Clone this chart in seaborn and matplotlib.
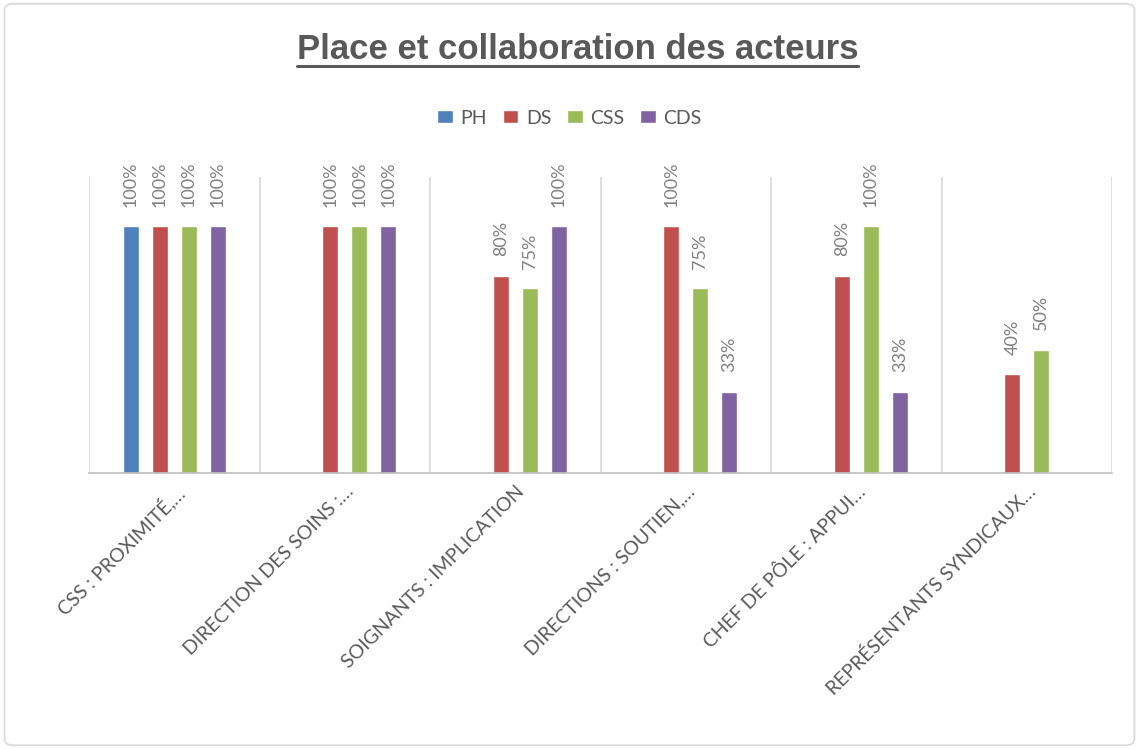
import matplotlib
matplotlib.use("Agg")
import matplotlib.pyplot as plt
import seaborn as sns
import pandas as pd
import numpy as np
from matplotlib.patches import FancyBboxPatch
from matplotlib.lines import Line2D

# Données du graphique
categories = [
    "CSS : PROXIMITÉ,…",
    "DIRECTION DES SOINS :…",
    "SOIGNANTS : IMPLICATION",
    "DIRECTIONS : SOUTIEN,…",
    "CHEF DE PÔLE : APPUI…",
    "REPRÉSENTANTS SYNDICAUX…",
]
series = ["PH", "DS", "CSS", "CDS"]
ph = [100, None, None, None, None, None]
ds = [100, 100, 80, 100, 80, 40]
css = [100, 100, 75, 75, 100, 50]
cds = [100, 100, 100, 33, 33, None]
colors = ["#4F81BD", "#C0504D", "#9BBB59", "#8064A2"]

TITLE = "Place et collaboration des acteurs"


def build_df():
    """Long format table, missing values dropped."""
    rows = []
    for name, values in zip(series, [ph, ds, css, cds]):
        for cat, v in zip(categories, values):
            if v is not None:
                rows.append({"categorie": cat, "serie": name, "valeur": v})
    return pd.DataFrame(rows)


def main():
    sns.set_style("white")
    plt.rcParams['font.family'] = ['Lato', 'DejaVu Sans']

    df = build_df()

    fig = plt.figure(figsize=(11.39, 7.49), dpi=100)
    ax = fig.add_axes([89 / 1139, 1 - 473 / 749, (1112 - 89) / 1139, (473 - 177) / 749])

    sns.barplot(data=df, x="categorie", y="valeur", hue="serie",
                order=categories, hue_order=series, palette=colors,
                width=0.68, gap=0.45, saturation=1, ax=ax)

    # étiquettes de données verticales
    for cont in ax.containers:
        ax.bar_label(cont, fmt="%.0f%%", rotation=90, padding=14,
                     color="#808080", fontsize=13)

    ax.set_ylim(0, 120)
    ax.set_xlim(-0.5, len(categories) - 0.5)
    ax.set_yticks([])
    ax.set_xlabel("")
    ax.set_ylabel("")
    for side in ["left", "top", "right"]:
        ax.spines[side].set_visible(False)
    ax.spines["bottom"].set_color("#BFBFBF")
    ax.spines["bottom"].set_linewidth(1.2)

    # séparateurs verticaux entre catégories
    ax.set_xticks(np.arange(len(categories) + 1) - 0.5, minor=True)
    ax.grid(False)
    ax.grid(axis="x", which="minor", color="#D9D9D9", linewidth=1.2)
    ax.tick_params(axis="x", which="both", length=0)
    ax.set_xticks(range(len(categories)))
    ax.set_xticklabels(categories, rotation=45, ha="right", rotation_mode="anchor",
                       fontsize=14, color="#595959")
    ax.tick_params(axis="x", pad=7)

    # légende
    sns.move_legend(ax, "center", bbox_to_anchor=(0.5, 1 - 118 / 749),
                    bbox_transform=fig.transFigure, ncol=4, frameon=False,
                    title=None, fontsize=14, handlelength=0.8, handleheight=0.6,
                    handletextpad=0.4, columnspacing=0.8)
    for t in ax.get_legend().get_texts():
        t.set_color("#595959")

    # titre souligné
    title = fig.text(0.507, 1 - 59 / 749, TITLE, ha="center", va="baseline",
                     fontsize=25, fontweight="bold", color="#595959",
                     family=["Liberation Sans", "DejaVu Sans"])
    fig.canvas.draw()
    bb = title.get_window_extent()
    y_line = 1 - 66 / 749
    fig.add_artist(Line2D([bb.x0 / 1139, bb.x1 / 1139], [y_line, y_line],
                          transform=fig.transFigure, color="#595959", linewidth=2.2))

    # cadre du graphique
    fig.add_artist(FancyBboxPatch((0.004, 0.005), 0.992, 0.99,
                                  boxstyle="round,pad=0,rounding_size=0.008",
                                  transform=fig.transFigure, fill=False,
                                  edgecolor="#D9D9D9", linewidth=1.2))

    fig.savefig("out.png", dpi=100)


if __name__ == "__main__":
    main()
